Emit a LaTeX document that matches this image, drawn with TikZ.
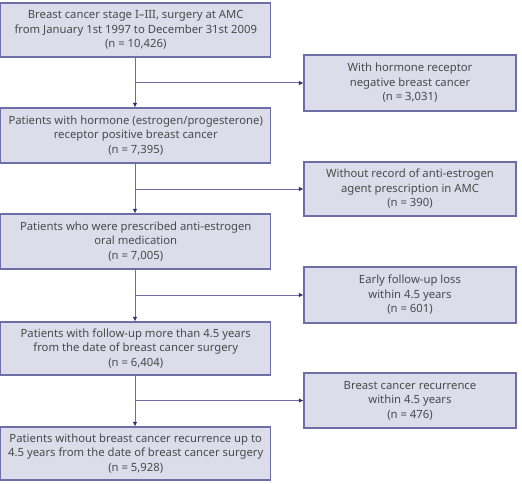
\documentclass[tikz,border=0pt]{standalone}
\usepackage{fontspec}
\setmainfont{Noto Sans}
\usetikzlibrary{arrows.meta}
\definecolor{boxfill}{HTML}{DCDCEB}
\definecolor{boxdraw}{HTML}{6E6EA6}
\definecolor{txt}{HTML}{4A4A4A}
\definecolor{arr}{HTML}{2E2E70}
\begin{document}
\begin{tikzpicture}[x=1pt,y=-1pt,
  lbox/.style={draw=boxdraw,fill=boxfill,line width=1.1pt,minimum width=270pt,minimum height=54pt,inner sep=0pt,align=center,text=txt,font=\fontsize{11.3}{14.5}\selectfont},
  rbox/.style={lbox,minimum width=212pt},
  conn/.style={draw=boxdraw,line width=1pt},
  arrow/.style={conn,-{Latex[length=4.5pt,width=4.5pt,color=arr]}}]
\useasboundingbox (0,0) rectangle (522,484);
\node[lbox] (b1) at (135.75,30) {Breast cancer stage I–III, surgery at AMC\\from January 1st 1997 to December 31st 2009\\(n = 10,426)};
\node[lbox,minimum height=55pt] (b2) at (135.75,135.5) {Patients with hormone (estrogen/progesterone)\\receptor positive breast cancer\\(n = 7,395)};
\node[lbox,minimum height=55pt] (b3) at (135.75,241.5) {Patients who were prescribed anti-estrogen\\oral medication\\(n = 7,005)};
\node[lbox,minimum height=53pt] (b4) at (135.75,348.5) {Patients with follow-up more than 4.5 years\\from the date of breast cancer surgery\\(n = 6,404)};
\node[lbox,minimum height=53pt] (b5) at (135.75,453.5) {Patients without breast cancer recurrence up to\\4.5 years from the date of breast cancer surgery\\(n = 5,928)};
\node[rbox,minimum height=56pt] (r1) at (410,83) {With hormone receptor\\negative breast cancer\\(n = 3,031)};
\node[rbox,minimum height=54pt] (r2) at (410,189) {Without record of anti-estrogen\\agent prescription in AMC\\(n = 390)};
\node[rbox,minimum height=56pt] (r3) at (410,295) {Early follow-up loss\\within 4.5 years\\(n = 601)};
\node[rbox,minimum height=55pt] (r4) at (410,400.5) {Breast cancer recurrence\\within 4.5 years\\(n = 476)};
\foreach \a/\b/\r in {b1/b2/r1,b2/b3/r2,b3/b4/r3,b4/b5/r4}{
  \draw[arrow] ([xshift=-0.75pt]\a.south) -- ([xshift=-0.75pt]\b.north);
  \coordinate (j) at ([xshift=-0.75pt]\a.south |- \r.west);
  \draw[arrow] (j) -- (\r.west);
}
\end{tikzpicture}
\end{document}
